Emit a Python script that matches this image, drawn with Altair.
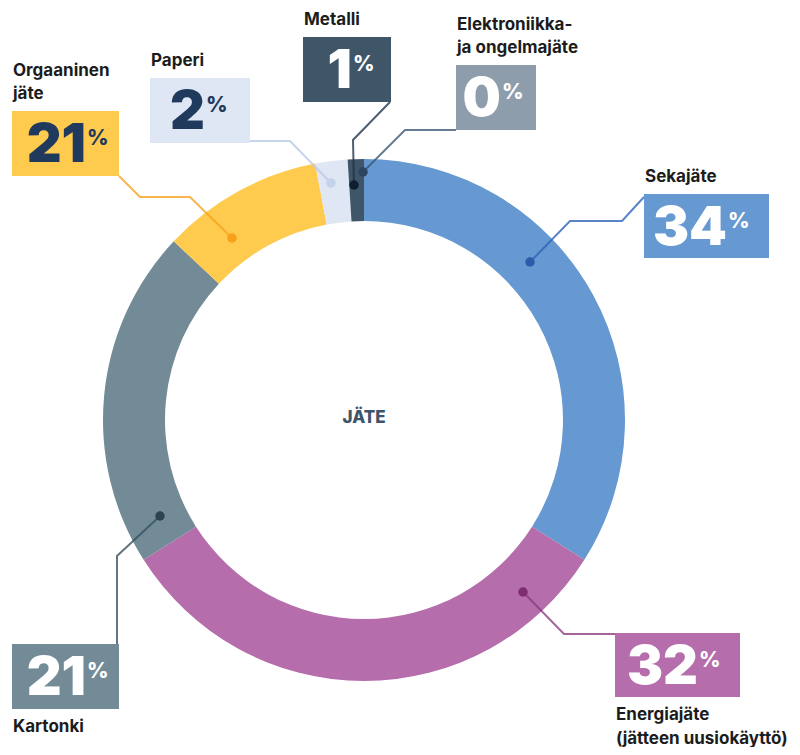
import altair as alt
import pandas as pd

# ---- data ----
categories = ["Sekajäte", "Energiajäte", "Kartonki", "Orgaaninen jäte",
              "Paperi", "Metalli", "Elektroniikka- ja ongelmajäte"]
values = [34, 32, 21, 10, 2, 1, 0]          # arc sizes as drawn
pct_labels = ["34", "32", "21", "21", "2", "1", "0"]   # numbers printed in boxes
name_lines = [["Sekajäte"], ["Energiajäte", "(jätteen uusiokäyttö)"], ["Kartonki"],
              ["Orgaaninen", "jäte"], ["Paperi"], ["Metalli"],
              ["Elektroniikka-", "ja ongelmajäte"]]
center_title = "JÄTE"

# ---- styles ----
fills = ["#6699d1", "#b56dab", "#738b96", "#fecb4f", "#dfe6f4", "#3f5568", "#8e9dab"]
line_colors = ["#2a62b8", "#8a3a80", "#34505f", "#f7a21b", "#b9c8e6", "#1d3249", "#3a5574"]
dot_colors = ["#2a5cab", "#7d2e73", "#2e4350", "#f9a01b", "#c5d2ec", "#0f1f30", "#2c4560"]
digit_colors = ["white", "white", "white", "#1f3a5c", "#1f3a5c", "white", "white"]

# ---- layout (pixel positions of annotation boxes and leaders) ----
boxes = [(644, 194, 769, 258), (615, 633, 740, 697), (12, 644, 119, 709),
         (12, 111, 119, 176), (150, 78, 250, 143), (303, 37, 391, 102),
         (456, 65, 536, 130)]
label_side = ["above", "below", "below", "above", "above", "above", "above"]
leaders = [
    [(530, 262), (570, 221), (622, 221), (644, 197)],
    [(523, 592), (564, 634), (615, 634)],
    [(160, 516), (117, 556), (117, 644)],
    [(232, 238), (190, 197), (140, 197), (119, 176)],
    [(331, 183), (290, 141), (250, 141)],
    [(354, 185), (353, 140), (390, 102)],
    [(363, 172), (405, 130), (456, 130)],
]

W, H = 784, 739
OX, OY = 8, 8
CX, CY = 364, 420
R_OUT, R_IN = 261, 199

xs = alt.Scale(domain=[OX, OX + W], range=[0, W])
ys = alt.Scale(domain=[OY, OY + H], range=[0, H])

arc_df = pd.DataFrame({"cat": categories, "value": values,
                       "idx": list(range(len(categories))), "fill": fills})
arc = alt.Chart(arc_df).mark_arc(outerRadius=R_OUT, innerRadius=R_IN).encode(
    theta=alt.Theta("value:Q", stack=True),
    order=alt.Order("idx:Q"),
    color=alt.Color("fill:N", scale=None),
    x=alt.value(CX - OX), y=alt.value(CY - OY),
)

line_rows, dot_rows = [], []
for i, pts in enumerate(leaders):
    for j, (px, py) in enumerate(pts):
        line_rows.append({"cat": categories[i], "o": j, "x": px, "y": py, "c": line_colors[i]})
    dot_rows.append({"cat": categories[i], "x": pts[0][0], "y": pts[0][1], "c": dot_colors[i]})
line_df = pd.DataFrame(line_rows)
dot_df = pd.DataFrame(dot_rows)

lines = alt.Chart(line_df).mark_line(strokeWidth=2, opacity=0.78).encode(
    x=alt.X("x:Q", scale=xs, axis=None), y=alt.Y("y:Q", scale=ys, axis=None),
    detail="cat:N", order="o:Q", color=alt.Color("c:N", scale=None))
dots = alt.Chart(dot_df).mark_circle(size=90, opacity=1).encode(
    x=alt.X("x:Q", scale=xs, axis=None), y=alt.Y("y:Q", scale=ys, axis=None),
    color=alt.Color("c:N", scale=None))

box_rows, num_rows, lab_rows = [], [], []
DW = 31
for i, (x0, y0, x1, y1) in enumerate(boxes):
    box_rows.append({"x0": x0, "y0": y0, "x1": x1, "y1": y1, "c": fills[i]})
    n = len(pct_labels[i])
    group = n * DW + 1 + 20
    left = (x0 + x1) / 2 - group / 2
    num_rows.append({"num": pct_labels[i], "nx": left + n * DW, "ny": y0 + 51,
                     "px": left + n * DW + 1, "py": y0 + 34, "tc": digit_colors[i]})
    ls = name_lines[i]
    for k, t in enumerate(ls):
        if label_side[i] == "above":
            yy = y0 - 12 - (len(ls) - 1 - k) * 23
        else:
            yy = y1 + 23 + k * 24
        lab_rows.append({"t": t, "x": x0 + 1, "y": yy})
box_df = pd.DataFrame(box_rows)
num_df = pd.DataFrame(num_rows)
lab_df = pd.DataFrame(lab_rows)

rects = alt.Chart(box_df).mark_rect().encode(
    x=alt.X("x0:Q", scale=xs, axis=None), x2="x1:Q",
    y=alt.Y("y0:Q", scale=ys, axis=None), y2="y1:Q",
    color=alt.Color("c:N", scale=None))
nums = alt.Chart(num_df).mark_text(font="Inter", fontWeight=900, fontSize=54,
                                   align="right", baseline="alphabetic").encode(
    x=alt.X("nx:Q", scale=xs, axis=None), y=alt.Y("ny:Q", scale=ys, axis=None),
    text="num:N", color=alt.Color("tc:N", scale=None))
pcts = alt.Chart(num_df).mark_text(font="Inter", fontWeight=800, fontSize=21,
                                   align="left", baseline="alphabetic", text="%").encode(
    x=alt.X("px:Q", scale=xs, axis=None), y=alt.Y("py:Q", scale=ys, axis=None),
    color=alt.Color("tc:N", scale=None))
labels = alt.Chart(lab_df).mark_text(font="Inter", fontWeight=700, fontSize=17,
                                     align="left", baseline="alphabetic", color="#1c1c1c").encode(
    x=alt.X("x:Q", scale=xs, axis=None), y=alt.Y("y:Q", scale=ys, axis=None), text="t:N")
center = alt.Chart(pd.DataFrame({"t": [center_title], "x": [CX], "y": [CY + 3]})).mark_text(
    font="Inter", fontWeight=800, fontSize=17, align="center", baseline="alphabetic",
    color="#3d5568").encode(
    x=alt.X("x:Q", scale=xs, axis=None), y=alt.Y("y:Q", scale=ys, axis=None), text="t:N")

chart = alt.layer(arc, lines, dots, rects, nums, pcts, labels, center).properties(
    width=W, height=H, padding=0, autosize=alt.AutoSizeParams(type="none"),
    background="white",
).configure_view(stroke=None)

chart.save("out.html", embed_options={"renderer": "svg", "actions": False})
